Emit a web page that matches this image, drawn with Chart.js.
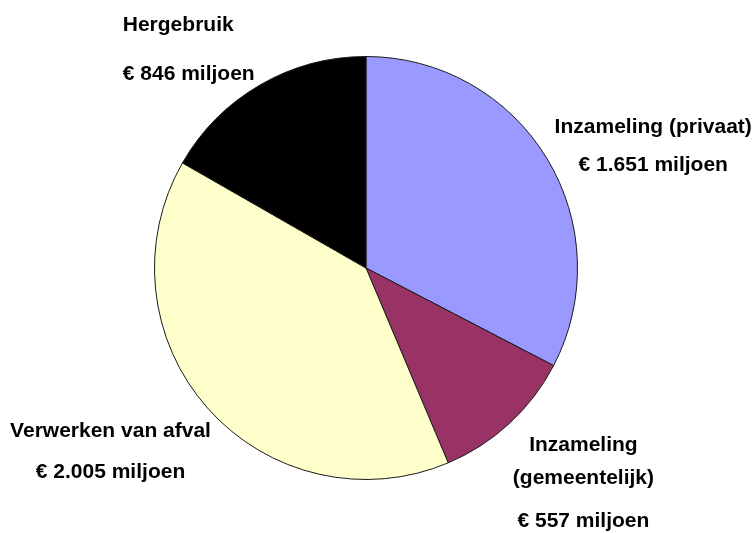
<!DOCTYPE html>
<html>
<head>
<meta charset="utf-8">
<script src="https://cdn.jsdelivr.net/npm/chart.js@4/dist/chart.umd.min.js"></script>
<style>
html,body{margin:0;padding:0;background:#fff;}
#wrap{width:755px;height:533px;position:relative;}
</style>
</head>
<body>
<div id="wrap"><canvas id="c" width="755" height="533"></canvas></div>
<script>
const categories = ["Inzameling (privaat)", "Inzameling (gemeentelijk)", "Verwerken van afval", "Hergebruik"];
const values = [1651, 557, 2005, 846];
const colors = ["#9999FF", "#993366", "#FFFFCC", "#000000"];
const labelLines = [
  ["Inzameling (privaat)", "€ 1.651 miljoen"],
  ["Inzameling", "(gemeentelijk)", "€ 557 miljoen"],
  ["Verwerken van afval", "€ 2.005 miljoen"],
  ["Hergebruik", "€ 846 miljoen"]
];

// label layout (relative to pie centre, in units of radius)
const labelLayout = [
  {dx: 1.358, dy: -0.665, align: "center", gaps: [38]},
  {dx: 1.028, dy: 0.840, align: "center", gaps: [33, 43]},
  {dx: -1.208, dy: 0.774, align: "center", gaps: [41]},
  {dx: -1.150, dy: -1.146, align: "left", gaps: [49]}
];

const labelPlugin = {
  id: "pieLabels",
  afterDraw(chart) {
    const meta = chart.getDatasetMeta(0);
    const ctx = chart.ctx;
    ctx.save();
    ctx.fillStyle = "#000";
    ctx.font = "bold 21px 'Liberation Sans', Arial, sans-serif";
    ctx.textBaseline = "middle";
    meta.data.forEach((arc, i) => {
      const r = arc.outerRadius;
      const L = labelLayout[i];
      const x = arc.x + L.dx * r;
      let y = arc.y + L.dy * r;
      ctx.textAlign = L.align;
      labelLines[i].forEach((t, j) => {
        if (j > 0) y += L.gaps[j - 1];
        ctx.fillText(t, x, y);
      });
    });
    ctx.restore();
  }
};

new Chart(document.getElementById("c"), {
  type: "pie",
  data: {
    labels: categories,
    datasets: [{
      data: values,
      backgroundColor: colors,
      borderColor: "#1a1a1a",
      borderWidth: 1
    }]
  },
  options: {
    responsive: false,
    animation: false,
    layout: {padding: {top: 56, bottom: 53, left: 100, right: 123}},
    plugins: {legend: {display: false}, tooltip: {enabled: false}}
  },
  plugins: [labelPlugin]
});
</script>
</body>
</html>
